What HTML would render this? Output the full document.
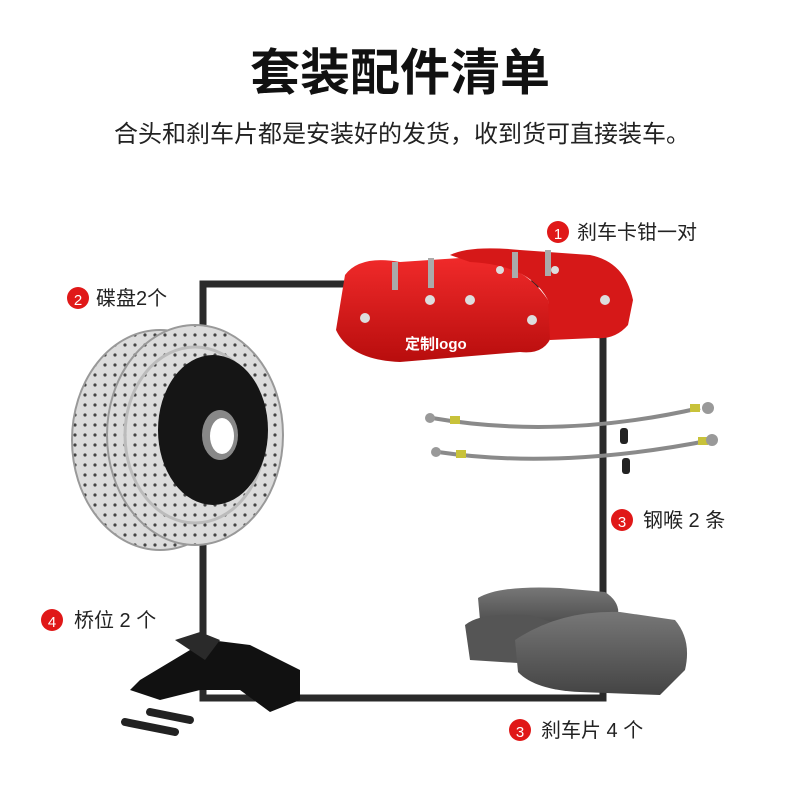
<!DOCTYPE html>
<html><head><meta charset="utf-8"><style>
body{margin:0;background:#fff;}
svg{display:block}
text{font-family:"Liberation Sans","Noto Sans CJK SC",sans-serif;}
</style></head><body>
<svg width="800" height="800" viewBox="0 0 800 800" xmlns="http://www.w3.org/2000/svg">
<defs>
<pattern id="dots" width="10" height="10" patternUnits="userSpaceOnUse"><rect width="10" height="10" fill="#dcdcdc"/><circle cx="5" cy="5" r="1.6" fill="#444"/></pattern>
<linearGradient id="red" x1="0" y1="0" x2="0" y2="1"><stop offset="0" stop-color="#f02a2a"/><stop offset="1" stop-color="#b80d0d"/></linearGradient>
<linearGradient id="pad" x1="0" y1="0" x2="0" y2="1"><stop offset="0" stop-color="#777"/><stop offset="1" stop-color="#444"/></linearGradient>
</defs>
<text x="400" y="90" text-anchor="middle" font-size="50" font-weight="bold" fill="#111">套装配件清单</text>
<text x="402" y="142" text-anchor="middle" font-size="24" fill="#222">合头和刹车片都是安装好的发货，收到货可直接装车。</text>
<rect x="203" y="284" width="400" height="414" fill="none" stroke="#2a2a2a" stroke-width="7"/>
<!-- disc -->
<ellipse cx="160" cy="440" rx="88" ry="110" fill="url(#dots)" stroke="#999" stroke-width="2"/>
<ellipse cx="195" cy="435" rx="88" ry="110" fill="url(#dots)" stroke="#999" stroke-width="2"/>
<ellipse cx="195" cy="435" rx="70" ry="88" fill="none" stroke="#bbb" stroke-width="3"/>
<ellipse cx="213" cy="430" rx="55" ry="75" fill="#151515"/>
<ellipse cx="220" cy="435" rx="18" ry="25" fill="#888"/>
<ellipse cx="222" cy="436" rx="12" ry="18" fill="#fff"/>
<!-- caliper -->
<path d="M345 275 Q360 255 400 262 L460 258 Q520 258 548 300 L552 335 Q545 355 520 352 L400 362 Q350 360 336 330 Z" fill="url(#red)"/>
<path d="M450 255 Q470 245 520 250 L590 255 Q625 262 633 300 L628 325 Q615 340 595 338 L550 340 L548 300 Q530 265 470 262 Z" fill="#d61818"/>
<g fill="#ddd"><circle cx="365" cy="318" r="5"/><circle cx="430" cy="300" r="5"/><circle cx="470" cy="300" r="5"/><circle cx="532" cy="320" r="5"/><circle cx="605" cy="300" r="5"/><circle cx="500" cy="270" r="4"/><circle cx="555" cy="270" r="4"/></g>
<g fill="#aaa"><rect x="392" y="262" width="6" height="28"/><rect x="428" y="258" width="6" height="30"/><rect x="512" y="252" width="6" height="26"/><rect x="545" y="250" width="6" height="26"/></g>
<text x="405" y="349" font-size="15" font-weight="bold" fill="#fff">定制logo</text>
<!-- hoses -->
<g fill="none" stroke="#8a8a8a" stroke-width="4"><path d="M432 418 Q560 440 700 408"/><path d="M438 452 Q560 470 712 440"/></g>
<g fill="#222"><rect x="620" y="428" width="8" height="16" rx="3"/><rect x="622" y="458" width="8" height="16" rx="3"/></g>
<g fill="#c8c23a"><rect x="450" y="416" width="10" height="8"/><rect x="456" y="450" width="10" height="8"/><rect x="690" y="404" width="10" height="8"/><rect x="698" y="437" width="10" height="8"/></g>
<g fill="#999"><circle cx="430" cy="418" r="5"/><circle cx="436" cy="452" r="5"/><circle cx="708" cy="408" r="6"/><circle cx="712" cy="440" r="6"/></g>
<!-- pads -->
<path d="M478 598 Q500 585 560 588 L605 592 Q625 605 615 625 L540 632 L480 620 Z" fill="url(#pad)"/>
<path d="M465 625 Q480 612 530 615 L560 625 L550 665 L470 660 Z" fill="#555"/>
<path d="M515 640 Q560 610 620 612 L675 620 Q692 640 685 670 L660 695 L580 692 Q535 690 518 672 Z" fill="url(#pad)"/>
<!-- bracket -->
<path d="M140 680 L190 650 L210 640 L250 645 L300 670 L300 700 L270 712 L240 690 L200 690 L160 700 L130 690 Z" fill="#111"/>
<path d="M175 640 L200 632 L220 640 L205 660 Z" fill="#2a2a2a"/>
<g stroke="#222" stroke-width="8" stroke-linecap="round"><line x1="125" y1="722" x2="175" y2="732"/><line x1="150" y1="712" x2="190" y2="720"/></g>
<!-- labels -->
<g font-size="20" fill="#222">
<circle cx="558" cy="232" r="11" fill="#e01818"/><text x="558" y="239" text-anchor="middle" fill="#fff" font-size="15">1</text><text x="577" y="239">刹车卡钳一对</text>
<circle cx="78" cy="298" r="11" fill="#e01818"/><text x="78" y="305" text-anchor="middle" fill="#fff" font-size="15">2</text><text x="96" y="305">碟盘2个</text>
<circle cx="622" cy="520" r="11" fill="#e01818"/><text x="622" y="527" text-anchor="middle" fill="#fff" font-size="15">3</text><text x="643" y="527">钢喉 2 条</text>
<circle cx="52" cy="620" r="11" fill="#e01818"/><text x="52" y="627" text-anchor="middle" fill="#fff" font-size="15">4</text><text x="74" y="627">桥位 2 个</text>
<circle cx="520" cy="730" r="11" fill="#e01818"/><text x="520" y="737" text-anchor="middle" fill="#fff" font-size="15">3</text><text x="541" y="737">刹车片 4 个</text>
</g>
</svg>
</body></html>
